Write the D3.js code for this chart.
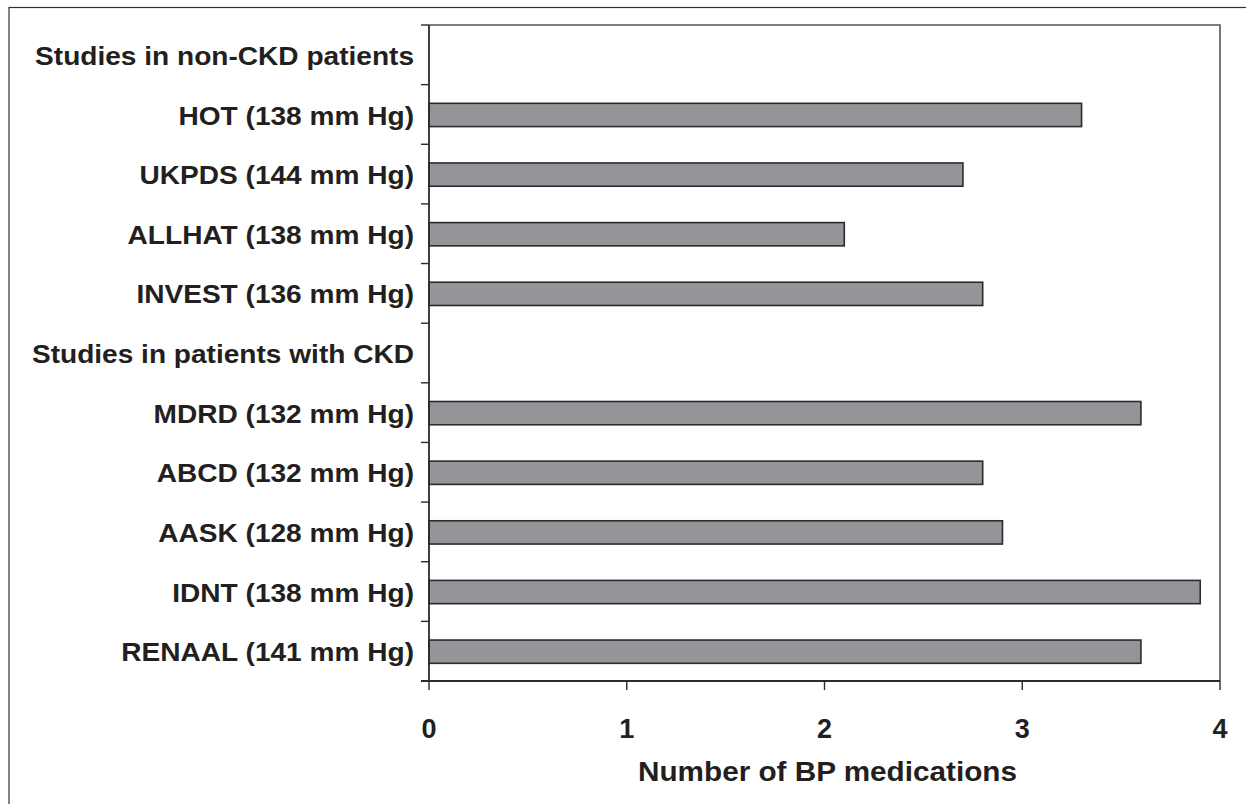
<!DOCTYPE html>
<html><head><meta charset="utf-8">
<script src="https://cdn.jsdelivr.net/npm/d3@7"></script>
<style>body{margin:0;background:#fff}svg{display:block}text{font-family:"Liberation Sans",Arial,sans-serif;font-weight:bold;fill:#231f20}</style>
</head><body><svg id="c" width="1246" height="804"></svg>
<script>
const categories = ["Studies in non-CKD patients","HOT (138 mm Hg)","UKPDS (144 mm Hg)","ALLHAT (138 mm Hg)","INVEST (136 mm Hg)","Studies in patients with CKD","MDRD (132 mm Hg)","ABCD (132 mm Hg)","AASK (128 mm Hg)","IDNT (138 mm Hg)","RENAAL (141 mm Hg)"];
const values = [null,3.3,2.7,2.1,2.8,null,3.6,2.8,2.9,3.9,3.6];
const xTicks = [0,1,2,3,4];
const xTitle = "Number of BP medications";

const svg = d3.select("#c");
const L=429,R=1220,T=25,B=681;
const x = d3.scaleLinear().domain([0,4]).range([L,R]);
const y = d3.scaleBand().domain(categories).range([T,B]).paddingInner(0.61).paddingOuter(0.305);
const yb = d3.scaleLinear().domain([0,categories.length]).range([T,B]);

// outer frame
svg.append("rect").attr("x",9).attr("y",7.5).attr("width",1300).attr("height",900)
  .attr("fill","none").attr("stroke","#333").attr("stroke-width",1.2);
// plot frame top & right
svg.append("path").attr("d",`M${L},${T}H${R}V${B}`).attr("fill","none").attr("stroke","#555").attr("stroke-width",1.6);

// bars
const rows = categories.map((c,i)=>({c,v:values[i]})).filter(d=>d.v!=null);
svg.selectAll("rect.bar").data(rows).join("rect").attr("class","bar")
  .attr("x",x(0)).attr("y",d=>y(d.c)+0.5).attr("width",d=>x(d.v)-x(0)).attr("height",y.bandwidth())
  .attr("fill","#939598").attr("stroke","#2b2b2b").attr("stroke-width",1.6);

// y axis
svg.append("line").attr("x1",L).attr("x2",L).attr("y1",T).attr("y2",B).attr("stroke","#2b2b2b").attr("stroke-width",1.8);
svg.selectAll("line.yt").data(d3.range(categories.length+1)).join("line").attr("class","yt")
  .attr("x1",L-8).attr("x2",L).attr("y1",d=>yb(d)).attr("y2",d=>yb(d)).attr("stroke","#2b2b2b").attr("stroke-width",1.4);
svg.selectAll("text.yl").data(categories).join("text").attr("class","yl")
  .attr("x",414).attr("y",d=>y(d)+y.bandwidth()/2+1).attr("dy","0.35em").attr("text-anchor","end")
  .attr("font-size",26).attr("transform-origin","414 0").text(d=>d)
  .attr("transform","scale(1.08,1)");

// x axis
svg.append("line").attr("x1",L-8).attr("x2",R).attr("y1",B).attr("y2",B).attr("stroke","#2b2b2b").attr("stroke-width",1.8);
svg.selectAll("line.xt").data(xTicks).join("line").attr("class","xt")
  .attr("x1",d=>x(d)).attr("x2",d=>x(d)).attr("y1",B).attr("y2",B+9).attr("stroke","#2b2b2b").attr("stroke-width",1.4);
svg.selectAll("text.xl").data(xTicks).join("text").attr("class","xl")
  .attr("x",d=>x(d)).attr("y",738).attr("text-anchor","middle").attr("font-size",27).text(d=>d);
svg.append("text").attr("x",(L+R)/2+3).attr("y",781).attr("text-anchor","middle").attr("font-size",27)
  .attr("transform-origin",`${(L+R)/2+3} 0`).attr("transform","scale(1.1,1)").text(xTitle);
</script></body></html>
